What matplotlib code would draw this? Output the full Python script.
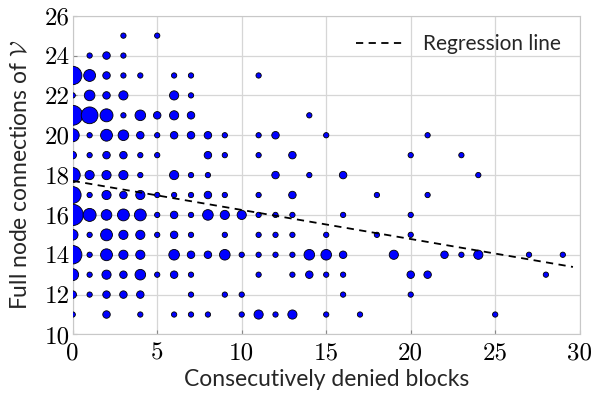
import numpy as np
import matplotlib
matplotlib.use("Agg")
import matplotlib.pyplot as plt

plt.rcParams['mathtext.fontset'] = 'cm'

# (x = denied blocks, y = full node connections, count) read row by row
xs = [3, 5,
      1, 2, 3,
      0, 1, 2, 3, 4, 6, 7, 11,
      0, 1, 2, 3, 6, 7,
      0, 1, 2, 3, 4, 5, 6, 7, 14,
      0, 1, 2, 3, 4, 5, 6, 7, 8, 9, 11, 12, 15, 21,
      0, 1, 2, 3, 4, 5, 8, 9, 11, 13, 20, 23,
      0, 1, 2, 3, 4, 6, 7, 8, 12, 14, 16, 24,
      0, 1, 2, 3, 4, 5, 6, 7, 8, 9, 11, 13, 18, 21,
      0, 1, 2, 3, 4, 5, 6, 7, 8, 9, 10, 11, 12, 13, 16, 20,
      0, 1, 2, 3, 4, 5, 6, 7, 9, 11, 12, 13, 15, 18, 20,
      0, 1, 2, 3, 4, 6, 7, 8, 9, 10, 11, 12, 13, 14, 15, 16, 19, 22, 23, 24, 27, 29,
      0, 1, 2, 3, 4, 5, 6, 7, 11, 13, 14, 15, 16, 20, 21, 28,
      0, 1, 2, 3, 4, 7, 9, 10, 16, 20,
      0, 2, 4, 6, 7, 8, 10, 11, 12, 13, 15, 17, 25]
ys = [25] * 2 + [24] * 3 + [23] * 8 + [22] * 6 + [21] * 9 + [20] * 14 + \
     [19] * 12 + [18] * 12 + [17] * 14 + [16] * 16 + [15] * 15 + [14] * 22 + \
     [13] * 16 + [12] * 10 + [11] * 13
counts = [1, 1,
          1, 2, 1,
          12, 5, 2, 1, 1, 1, 1, 1,
          1, 4, 2, 3, 3, 1,
          14, 10, 6, 1, 4, 2, 3, 2, 1,
          6, 1, 5, 4, 2, 1, 2, 2, 2, 1, 1, 2, 1, 1,
          2, 1, 2, 2, 1, 1, 2, 1, 1, 2, 1, 1,
          8, 3, 3, 3, 1, 3, 1, 1, 2, 1, 2, 1,
          10, 1, 3, 2, 3, 1, 1, 1, 2, 1, 1, 2, 1, 1,
          16, 6, 4, 5, 5, 1, 2, 1, 4, 3, 3, 1, 1, 1, 1, 1,
          4, 1, 5, 3, 3, 1, 2, 1, 1, 1, 1, 1, 1, 1, 1,
          12, 1, 5, 3, 3, 4, 2, 2, 4, 1, 1, 1, 1, 4, 4, 2, 3, 2, 1, 3, 1, 1,
          5, 1, 3, 2, 4, 1, 2, 1, 1, 1, 2, 1, 1, 2, 2, 1,
          2, 1, 2, 2, 2, 1, 1, 1, 1, 1,
          1, 2, 1, 1, 1, 1, 1, 3, 1, 3, 1, 1, 1]

# regression line
reg_intercept = 17.71
reg_slope = -0.146
reg_x = [0, 29.6]

fig = plt.figure(figsize=(5.98, 3.93), dpi=100)
ax = fig.add_axes([0.1216, 0.149, 0.8478, 0.811])

ax.scatter(xs, ys, s=np.array(counts) * 14.6, c='#0000ff', edgecolors='black',
           linewidths=0.6, zorder=3)
rx = np.array(reg_x)
ax.plot(rx, reg_intercept + reg_slope * rx, 'k--', lw=1.3, dashes=(4, 3),
        label='Regression line', zorder=4)

ax.set_xlim(0, 30)
ax.set_ylim(10, 26)
ax.set_xticks(range(0, 31, 5))
ax.set_yticks(range(10, 27, 2))
for lab in ax.get_xticklabels() + ax.get_yticklabels():
    lab.set_fontfamily('cmr10')
    lab.set_fontsize(18)
ax.grid(True, color='#d6d6d6', lw=0.9, zorder=0)
ax.set_axisbelow(True)
for sp in ax.spines.values():
    sp.set_color('#c8c8c8')
ax.tick_params(direction='in', length=3, color='#888888')
ax.tick_params(axis='x', pad=6)
ax.tick_params(axis='y', pad=2)

ax.set_xlabel('Consecutively denied blocks', fontfamily='Lato', fontsize=16.5,
              color='#262626', labelpad=3)
ax.set_ylabel(r'Full node connections of $\mathcal{V}$', fontfamily='Lato',
              fontsize=16.5, color='#262626', labelpad=10)

leg = ax.legend(loc='upper right', frameon=False, handlelength=2.2,
                handletextpad=1.0, prop={'family': 'Lato', 'size': 15},
                borderaxespad=0.5)
for t in leg.get_texts():
    t.set_color('#262626')

fig.savefig('out.png', dpi=100)
